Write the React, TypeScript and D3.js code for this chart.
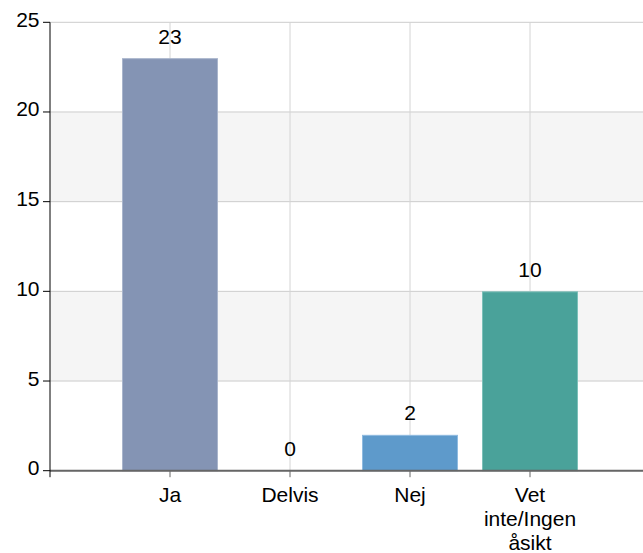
import React from "react";
import * as d3 from "d3";

const categories: string[][] = [["Ja"], ["Delvis"], ["Nej"], ["Vet", "inte/Ingen", "åsikt"]];
const categoryKeys = ["Ja", "Delvis", "Nej", "Vet inte/Ingen åsikt"];
const values = [23, 0, 2, 10];
const colors = ["#8494B4", "#8494B4", "#5E9ACB", "#4AA29A"];
const strokes = ["#A9B5CC", "#A9B5CC", "#8FBBE0", "#7CC0B9"];
const yTicks = [0, 5, 10, 15, 20, 25];

const W = 643;
const H = 553;
const left = 50;
const right = 650;
const top = 22.3;
const bottom = 470.7;
const font = "'Liberation Sans', Arial, sans-serif";

export default function App() {
  const x = d3.scaleBand<string>().domain(categoryKeys).range([left, right]).paddingInner(0.2).paddingOuter(0.6);
  const step = x.step();
  const y = d3.scaleLinear().domain([0, 25]).range([bottom, top]);
  const center = (k: string) => (x(k) as number) + x.bandwidth() / 2;

  const bands = [
    [5, 10],
    [15, 20],
  ];

  return (
    <svg width={W} height={H} style={{ position: "absolute", left: 0, top: 0 }} fontFamily={font}>
      <rect x={0} y={0} width={W} height={H} fill="#fff" />
      {bands.map(([a, b], i) => (
        <rect key={i} x={left} y={y(b)} width={right - left} height={y(a) - y(b)} fill="#F5F5F5" />
      ))}
      {yTicks.map((t) => (
        <line key={t} x1={left} x2={right} y1={y(t)} y2={y(t)} stroke="#CCCCCC" strokeWidth={1} />
      ))}
      {categoryKeys.map((k) => (
        <line key={k} x1={center(k)} x2={center(k)} y1={top} y2={bottom} stroke="#D4D4D4" strokeWidth={1} />
      ))}
      {values.map((v, i) => {
        const k = categoryKeys[i];
        const bx = center(k) - step * 0.4;
        return v > 0 ? (
          <rect
            key={k}
            x={bx + 0.5}
            y={y(v) + 0.5}
            width={step * 0.8 - 1}
            height={y(0) - y(v) - 0.5}
            fill={colors[i]}
            stroke={strokes[i]}
            strokeWidth={1}
          />
        ) : null;
      })}
      {/* x axis */}
      <line x1={left} x2={right} y1={bottom} y2={bottom} stroke="#666" strokeWidth={2} />
      {categoryKeys.map((k) => (
        <line key={k} x1={center(k)} x2={center(k)} y1={bottom} y2={bottom + 6.5} stroke="#666" strokeWidth={1} />
      ))}
      {/* y axis */}
      <line x1={left} x2={left} y1={top} y2={bottom + 6.5} stroke="#000" strokeWidth={1} />
      {yTicks.map((t) => (
        <g key={t}>
          <line x1={43} x2={left} y1={y(t)} y2={y(t)} stroke="#000" strokeWidth={1} />
          <text x={39.5} y={y(t) + 4.5} textAnchor="end" fontSize={21} fill="#000">
            {t}
          </text>
        </g>
      ))}
      {/* value labels */}
      {values.map((v, i) => (
        <text key={i} x={center(categoryKeys[i])} y={y(v) - 14.5} textAnchor="middle" fontSize={21} fill="#000">
          {v}
        </text>
      ))}
      {/* category labels */}
      {categories.map((lines, i) => (
        <text key={i} textAnchor="middle" fontSize={21} fill="#000">
          {lines.map((ln, j) => (
            <tspan key={j} x={center(categoryKeys[i])} y={501.5 + j * 24.2}>
              {ln}
            </tspan>
          ))}
        </text>
      ))}
    </svg>
  );
}
